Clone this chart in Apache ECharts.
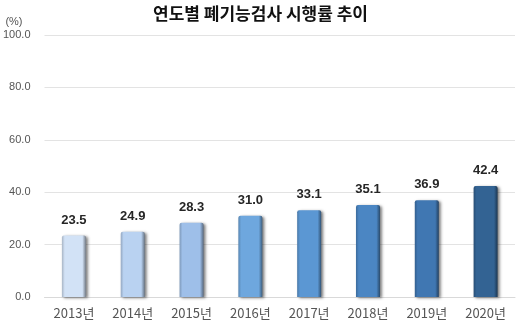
<!DOCTYPE html>
<html><head><meta charset="utf-8">
<script src="https://cdn.jsdelivr.net/npm/echarts@6/dist/echarts.min.js"></script>
<style>html,body{margin:0;padding:0;background:#fff}#c{width:521px;height:331px}</style>
</head><body><div id="c"></div>
<script>
const categories = ['2013년','2014년','2015년','2016년','2017년','2018년','2019년','2020년'];
const values = [23.5, 24.9, 28.3, 31.0, 33.1, 35.1, 36.9, 42.4];
const barColors = ['#d2e2f6','#b9d2f1','#9ebfe9','#6ea7de','#5b97d3','#4b86c3','#4077b2','#336393'];
const yTicks = [0, 20, 40, 60, 80, 100];

function shade(hex, f) {
  const n = parseInt(hex.slice(1), 16);
  let r = (n >> 16) & 255, g = (n >> 8) & 255, b = n & 255;
  r = Math.min(255, Math.round(r * f)); g = Math.min(255, Math.round(g * f)); b = Math.min(255, Math.round(b * f));
  return 'rgb(' + r + ',' + g + ',' + b + ')';
}

const chart = echarts.init(document.getElementById('c'));
chart.setOption({
  animation: false,
  title: {
    text: '연도별 폐기능검사 시행률 추이',
    left: 'center', top: 0,
    textStyle: { fontFamily: 'Noto Sans CJK KR', fontSize: 17, fontWeight: 'bold', color: '#111' }
  },
  grid: { left: 44, right: 6, top: 35, bottom: 34, containLabel: false },
  xAxis: {
    type: 'category', data: categories,
    axisLine: { show: true, lineStyle: { color: '#d9d9d9' } },
    axisTick: { show: false },
    axisLabel: { color: '#555', fontSize: 13, margin: 10, fontFamily: 'Noto Sans CJK KR' }
  },
  yAxis: {
    type: 'value', min: 0, max: 100, interval: 20,
    name: '(%)', nameLocation: 'end', nameGap: 8,
    nameTextStyle: { color: '#555', fontSize: 11, align: 'right', padding: [0, 22, 0, 0] },
    axisLine: { show: false }, axisTick: { show: false },
    axisLabel: { color: '#555', fontSize: 11, margin: 14, formatter: v => v.toFixed(1) },
    splitLine: { lineStyle: { color: '#e3e3e3', width: 1 } }
  },
  series: [{
    type: 'bar', barWidth: 24,
    data: values.map((v, i) => ({
      value: v,
      itemStyle: {
        color: {
          type: 'linear', x: 0, y: 0, x2: 1, y2: 0,
          colorStops: [
            { offset: 0, color: shade(barColors[i], 0.8) },
            { offset: 0.12, color: barColors[i] },
            { offset: 0.85, color: barColors[i] },
            { offset: 1, color: shade(barColors[i], 0.55) }
          ]
        },
        borderRadius: [2, 2, 0, 0],
        shadowColor: 'rgba(0,0,0,0.5)', shadowBlur: 3, shadowOffsetX: 2, shadowOffsetY: 1
      }
    })),
    label: {
      show: true, position: 'top', distance: 9,
      formatter: p => p.value.toFixed(1),
      fontSize: 13, fontWeight: 'bold', color: '#262626'
    }
  }]
});
</script></body></html>
